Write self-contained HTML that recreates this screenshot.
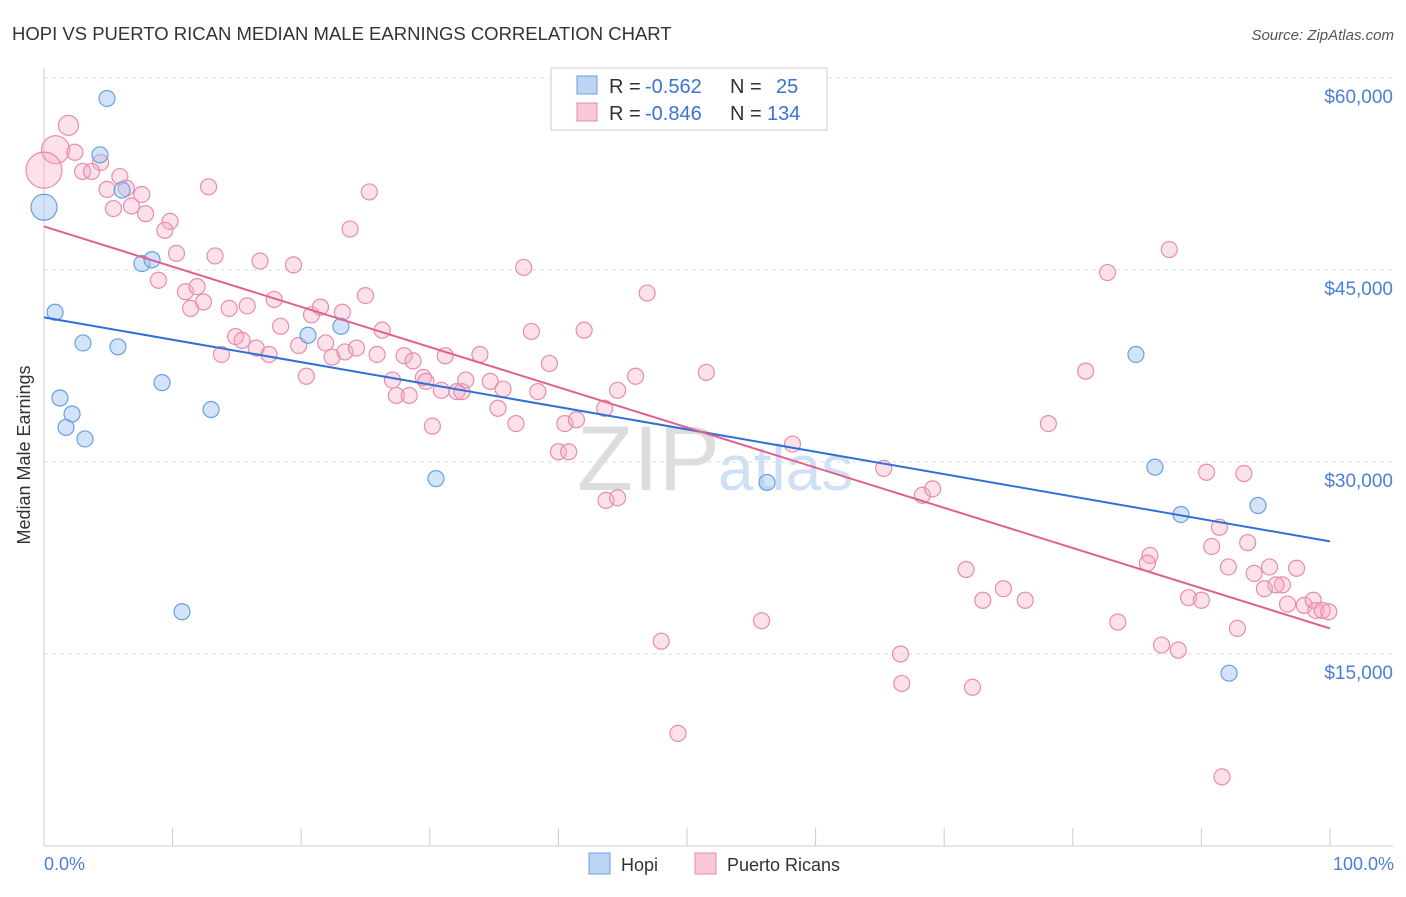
<!DOCTYPE html>
<html><head><meta charset="utf-8"><style>
body{margin:0;background:#fff;font-family:"Liberation Sans",sans-serif;}
svg text{font-family:"Liberation Sans",sans-serif;}
</style></head><body>
<svg id="chart" width="1406" height="892" viewBox="0 0 1406 892">
<text x="12" y="40" font-size="18.5" fill="#333">HOPI VS PUERTO RICAN MEDIAN MALE EARNINGS CORRELATION CHART</text>
<text x="1394" y="40" font-size="15" fill="#555" font-style="italic" text-anchor="end">Source: ZipAtlas.com</text>
<g id="grid"></g>
<g id="ticks"></g>
<text x="720" y="490" font-size="92" fill="#ddd" text-anchor="end" font-family="Liberation Serif">ZIP</text>
<text x="718" y="490" font-size="64" fill="#cfe0f5">atlas</text>
<line x1="44" y1="68" x2="44" y2="846" stroke="#ccc"/>
<line x1="44" y1="846" x2="1393" y2="846" stroke="#ccc"/>
<g id="xticks"></g>
<text x="30" y="455" font-size="18" fill="#333" text-anchor="middle" transform="rotate(-90 30 455)">Median Male Earnings</text>
<text x="44" y="870" font-size="18" fill="#4a7fd6">0.0%</text>
<text x="1394" y="870" font-size="18" fill="#4a7fd6" text-anchor="end">100.0%</text>
<g id="pts"></g>
<g id="lines"></g>
<g>
<rect x="551" y="68" width="276" height="62" fill="#fff" stroke="#ccc"/>
<rect x="577" y="76" width="20" height="18" fill="#bcd5f5" stroke="#6a9fe0"/>
<rect x="577" y="103" width="20" height="18" fill="#f9c8d8" stroke="#e68aa8"/>
<text y="93" font-size="20" fill="#333"><tspan x="609">R =</tspan><tspan x="645" fill="#3a73d0">-0.562</tspan><tspan x="730">N =</tspan><tspan x="776" fill="#3a73d0">25</tspan></text>
<text y="120" font-size="20" fill="#333"><tspan x="609">R =</tspan><tspan x="645" fill="#3a73d0">-0.846</tspan><tspan x="730">N =</tspan><tspan x="767" fill="#3a73d0">134</tspan></text>
</g>
<g>
<rect x="589" y="853" width="21" height="21" fill="#bcd5f5" stroke="#6a9fe0"/>
<text x="621" y="871" font-size="18" fill="#333">Hopi</text>
<rect x="695" y="853" width="21" height="21" fill="#f9c8d8" stroke="#e68aa8"/>
<text x="727" y="871" font-size="18" fill="#333">Puerto Ricans</text>
</g>
</svg>
<script>
const yTicks=[15000,30000,45000,60000];
const yTickLabels=["$15,000","$30,000","$45,000","$60,000"];
const hopiX=[4.9,4.35,6.07,0,7.62,8.4,0.86,3.03,5.75,9.18,1.24,12.99,2.18,1.71,3.19,10.73,20.53,23.09,30.48,56.22,84.91,86.39,88.41,94.4,92.15];
const hopiY=[58.4,54.0,51.25,49.9,45.5,45.8,41.7,39.3,39.0,36.2,35.0,34.1,33.75,32.7,31.8,18.3,39.9,40.6,28.7,28.4,38.4,29.6,25.9,26.6,13.5];
const hopiR=[8,8,8,13,8,8,8,8,8,8,8,8,8,8,8,8,8,8,8,8,8,8,8,8,8];
const prX=[1.9,0.9,0,2.4,4.4,3.0,3.7,5.9,4.9,6.4,7.6,5.4,6.8,7.9,9.8,9.4,12.8,10.3,8.9,13.3,11.0,11.9,11.4,12.4,16.8,19.4,14.4,15.8,17.9,18.4,14.9,15.4,13.8,16.5,17.5,20.8,21.5,19.8,20.4,21.9,22.4,23.4,24.3,23.2,23.8,25.3,25.0,26.3,25.9,28.0,28.7,27.1,27.4,28.4,29.5,29.7,30.2,30.9,31.2,32.1,32.5,32.8,33.9,34.7,35.7,35.3,36.7,37.3,37.9,39.3,38.4,40.0,40.5,40.8,41.4,42.0,43.6,44.6,46.0,46.9,43.7,44.6,48.0,49.3,51.5,55.8,58.2,65.3,66.6,66.7,68.3,69.1,71.7,72.2,73.0,74.6,76.3,78.1,81.0,82.7,83.5,86.0,85.8,87.5,86.9,88.2,89.0,90.0,90.4,90.8,91.4,92.1,93.3,93.6,94.1,94.9,95.3,96.3,95.8,97.4,96.7,98.0,98.7,98.9,99.4,99.9,92.8,91.6];
const prY=[56.3,54.4,52.8,54.2,53.4,52.7,52.7,52.3,51.3,51.4,50.9,49.8,50.0,49.4,48.8,48.1,51.5,46.3,44.2,46.1,43.3,43.7,42.0,42.5,45.7,45.4,42.0,42.2,42.7,40.6,39.8,39.5,38.4,38.9,38.4,41.5,42.1,39.1,36.7,39.3,38.2,38.6,38.9,41.7,48.2,51.1,43.0,40.3,38.4,38.3,37.9,36.4,35.2,35.2,36.6,36.3,32.8,35.6,38.3,35.5,35.5,36.4,38.4,36.3,35.7,34.2,33.0,45.2,40.2,37.7,35.5,30.8,33.0,30.8,33.3,40.3,34.2,35.6,36.7,43.2,27.0,27.2,16.0,8.8,37.0,17.6,31.4,29.5,15.0,12.7,27.4,27.9,21.6,12.4,19.2,20.1,19.2,33.0,37.1,44.8,17.5,22.7,22.1,46.6,15.7,15.3,19.4,19.2,29.2,23.4,24.9,21.8,29.1,23.7,21.3,20.1,21.8,20.4,20.4,21.7,18.9,18.8,19.2,18.4,18.4,18.3,17.0,5.4];
const prR=[10,14,18];
const hopiLine=[41.3,23.8];
const prLine=[48.4,17.0];
const xs=v=>44+v*12.86;
const ys=v=>846-v*0.0128;
const NS='http://www.w3.org/2000/svg';
function mk(t,a,p){const e=document.createElementNS(NS,t);for(const k in a)e.setAttribute(k,a[k]);p.appendChild(e);return e;}
const grid=document.getElementById('grid'),ticks=document.getElementById('ticks');
yTicks.forEach((v,i)=>{
 const l=mk('line',{x1:44,x2:1393,y1:ys(v),y2:ys(v),stroke:'#ddd','stroke-dasharray':'4,4'},grid);
 
 
 const t=mk('text',{x:1393,y:ys(v)+25,'font-size':19,fill:'#4a7fd6','text-anchor':'end'},ticks);
 t.textContent=yTickLabels[i];
 
 
});
const xt=document.getElementById('xticks');
for(let i=0;i<=10;i++){const l=mk('line',{x1:xs(i*10),x2:xs(i*10),y1:828,y2:846,stroke:'#ccc'},xt);
 
 }
const pts=document.getElementById('pts');
prX.forEach((x,i)=>{
 const r=i<3?prR[i]:8;
 const c=mk('circle',{cx:xs(x),cy:ys(prY[i]*1000),r:r,fill:'rgba(246,170,198,0.35)',stroke:'#e98cac','stroke-width':1.2},pts);
 
 
});
hopiX.forEach((x,i)=>{
 const c=mk('circle',{cx:xs(x),cy:ys(hopiY[i]*1000),r:hopiR[i],fill:'rgba(160,196,240,0.45)',stroke:'#6a9fe0','stroke-width':1.2},pts);
 
 
});
const lines=document.getElementById('lines');
const hl=mk('line',{x1:xs(0),y1:ys(hopiLine[0]*1000),x2:xs(100),y2:ys(hopiLine[1]*1000),stroke:'#2f6fd8','stroke-width':2},lines);


const pl=mk('line',{x1:xs(0),y1:ys(prLine[0]*1000),x2:xs(100),y2:ys(prLine[1]*1000),stroke:'#e0608e','stroke-width':2},lines);


</script>
</body></html>
